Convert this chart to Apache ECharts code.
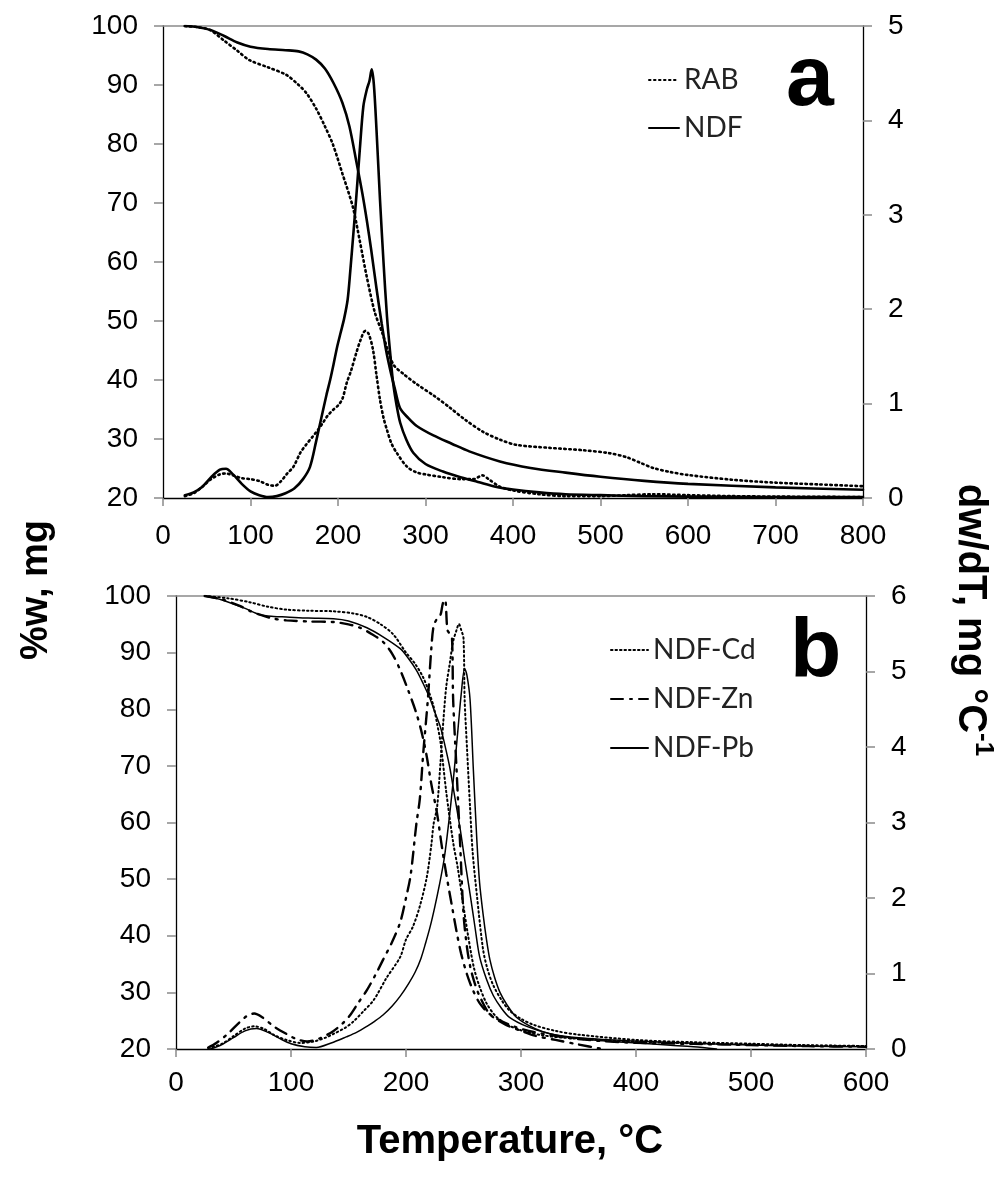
<!DOCTYPE html>
<html><head><meta charset="utf-8">
<script src="https://cdn.jsdelivr.net/npm/echarts@6/dist/echarts.min.js"></script>
<style>html,body{margin:0;padding:0;background:#fff}#c{width:1006px;height:1178px}</style>
</head><body><div id="c"></div>
<script>
// ---------- Panel a (x: temperature °C) ----------
const aXTicks = [0,100,200,300,400,500,600,700,800];
const aLeftTicks = [20,30,40,50,60,70,80,90,100];
const aRightTicks = [0,1,2,3,4,5];
// TG curves (%w, left axis)
const aNdfTG = [[25,100],[40,99.8],[55,99.3],[70,98.3],[85,97.2],[100,96.5],[120,96.1],[140,95.9],[155,95.7],[165,95.2],[175,94.3],[185,92.8],[195,90.3],[205,87],[213,83],[221,77],[228,71.5],[233,67],[238,62],[244,55.5],[250,49.5],[255,45],[260,41.5],[265,38.5],[271,35.2],[280,33.6],[290,32.2],[309,30.6],[330,29.2],[350,27.9],[385,26.2],[420,25.1],[460,24.3],[500,23.6],[550,22.9],[600,22.4],[700,21.8],[800,21.4]];
const aRabTG = [[25,100],[40,99.8],[54,99.3],[70,97.5],[85,95.8],[99,94.2],[120,93],[141,91.7],[155,90],[164,88.6],[175,86],[185,83],[194,80],[205,75],[217,69.3],[225,63.5],[233,57.4],[242,51.5],[251,47.8],[263,42.7],[275,41],[290,39.3],[310,37.3],[328,35.3],[345,33.3],[366,31.2],[385,29.9],[404,29],[442,28.5],[480,28.1],[510,27.6],[530,26.9],[545,26],[560,25.1],[580,24.4],[600,23.9],[650,23.1],[700,22.6],[750,22.3],[800,22]];
// DTG curves (dw/dT, right axis)
const aNdfDTG = [[25,0.03],[35,0.06],[45,0.12],[55,0.22],[65,0.3],[72,0.31],[80,0.25],[90,0.15],[100,0.07],[110,0.03],[120,0.01],[130,0.02],[140,0.05],[150,0.1],[160,0.2],[168,0.33],[175,0.6],[181,0.85],[187,1.1],[191,1.25],[195,1.42],[199,1.6],[203,1.75],[207,1.9],[211,2.1],[214,2.4],[218,2.85],[221,3.2],[225,3.7],[229,4.15],[233,4.33],[236,4.42],[238.5,4.54],[241,4.38],[244,3.9],[248,3.16],[252,2.5],[256,1.92],[260,1.5],[263,1.22],[267,0.98],[271,0.8],[278,0.62],[286,0.48],[300,0.36],[320,0.28],[340,0.22],[360,0.17],[380,0.12],[400,0.09],[430,0.06],[460,0.04],[500,0.03],[550,0.02],[600,0.015],[700,0.01],[800,0.01]];
const aRabDTG = [[25,0.02],[35,0.05],[45,0.12],[55,0.2],[65,0.25],[72,0.26],[80,0.24],[90,0.21],[100,0.2],[110,0.18],[120,0.14],[128,0.13],[135,0.18],[142,0.26],[149,0.33],[157,0.48],[164,0.57],[171,0.65],[177,0.72],[183,0.8],[188,0.87],[194,0.93],[200,0.98],[205,1.05],[210,1.22],[215,1.35],[221,1.54],[226,1.68],[231,1.77],[235,1.74],[240,1.57],[244,1.3],[248,1.04],[252,0.85],[256,0.72],[261,0.58],[267,0.48],[279,0.33],[290,0.27],[300,0.25],[320,0.22],[340,0.2],[355,0.2],[365,0.24],[372,0.2],[385,0.12],[400,0.08],[430,0.04],[460,0.02],[500,0.02],[530,0.03],[560,0.04],[600,0.03],[650,0.02],[700,0.015],[800,0.01]];

// ---------- Panel b ----------
const bXTicks = [0,100,200,300,400,500,600];
const bLeftTicks = [20,30,40,50,60,70,80,90,100];
const bRightTicks = [0,1,2,3,4,5,6];
const bCdTG = [[25,100],[45,99.6],[64,98.9],[80,98.1],[96,97.6],[115,97.4],[137,97.3],[155,96.9],[166,96.3],[178,95],[189,93.2],[200,90],[208,88],[215,85.6],[220,83],[224,80.5],[227,77.5],[230,74.2],[235,65.4],[241,56.5],[245,52],[250,45.2],[254,40],[259,34.4],[264,31],[270,28.1],[278,25.8],[288,24.3],[300,23.3],[319,22.4],[350,21.8],[400,21.3],[450,21],[500,20.8],[550,20.6],[600,20.5]];
const bZnTG = [[25,100],[40,99.4],[56,98.2],[65,97.3],[73,96.7],[85,96],[96,95.7],[115,95.5],[137,95.4],[150,95],[160,94.4],[170,93.3],[180,91.9],[188,89.8],[195,86.9],[202,83.3],[209,79.3],[214,75.6],[218,71.7],[222,66.8],[227,61.6],[231,56],[235,50.9],[240,45.2],[244,40.7],[248,36.8],[253,33.2],[258,30.5],[264,28.1],[272,26.3],[282,25],[295,23.9],[311,23],[340,22],[370,21.4],[400,21.1],[450,20.9],[500,20.7],[550,20.5],[600,20.4]];
const bPbTG = [[25,100],[40,99.3],[59,97.9],[73,96.7],[85,96.4],[96,96.3],[115,96.1],[137,96],[150,95.6],[166,94.4],[180,92.8],[195,90.7],[202,89],[209,86.9],[215,84.5],[221,81.8],[225,79.5],[230,76.8],[234,73.5],[238,69.8],[242,65],[247,59],[251,53.5],[256,47],[260,41.5],[264,36.3],[270,32.3],[276,29.4],[283,27.2],[290,25.6],[305,24],[325,22.7],[350,22],[400,21.4],[450,21],[500,20.7],[550,20.5],[600,20.4]];
const bCdDTG = [[28,0.01],[40,0.07],[50,0.17],[60,0.27],[68,0.3],[76,0.27],[86,0.18],[96,0.12],[108,0.08],[120,0.1],[130,0.15],[137,0.2],[147,0.28],[154,0.36],[163,0.5],[172,0.65],[183,0.94],[195,1.22],[200,1.45],[206,1.62],[212,1.89],[218,2.27],[222,2.7],[224,2.98],[227,3.2],[230,3.8],[232.5,4.35],[235,4.8],[238,5.1],[241,5.4],[244,5.55],[246,5.63],[248,5.55],[250,5.44],[251,4.63],[253,4.0],[255.7,3.2],[258,2.6],[261.7,2.03],[267,1.32],[271,1.05],[276,0.84],[283,0.65],[290,0.51],[300,0.4],[311,0.32],[330,0.24],[350,0.19],[400,0.12],[450,0.09],[500,0.07],[550,0.05],[600,0.04]];
const bZnDTG = [[28,0.02],[35,0.08],[45,0.2],[55,0.35],[62,0.44],[68,0.47],[75,0.42],[85,0.3],[96,0.2],[105,0.13],[114,0.1],[125,0.14],[137,0.24],[145,0.34],[151,0.44],[158,0.6],[166,0.78],[173,0.97],[180,1.18],[188,1.42],[195,1.68],[200,2.0],[204,2.3],[209,2.98],[212,3.31],[215,3.92],[219,4.63],[222,5.3],[224,5.6],[227,5.7],[230,5.75],[232,5.9],[234,5.95],[236,5.55],[238,5.5],[240,5.44],[241,4.63],[244,3.69],[247,2.74],[250,1.79],[253,1.35],[256,1.08],[260,0.86],[264,0.7],[273,0.46],[287,0.32],[300,0.24],[311,0.18],[330,0.12],[350,0.06],[371,0]];
const bPbDTG = [[30,0.0],[40,0.06],[50,0.15],[60,0.24],[70,0.27],[80,0.22],[90,0.14],[100,0.07],[112,0.03],[122,0.02],[135,0.08],[148,0.16],[157,0.22],[166,0.3],[173,0.37],[180,0.45],[188,0.57],[195,0.7],[202,0.86],[208,1.02],[213,1.2],[217,1.4],[221,1.62],[225,1.88],[229,2.17],[233,2.5],[236,2.85],[239,3.25],[242,3.7],[245,4.2],[248,4.7],[251,5.04],[253,4.95],[255.7,4.63],[258.6,3.69],[261.7,2.74],[264,2.2],[267,1.79],[270,1.45],[273,1.18],[277,0.95],[281.7,0.75],[288,0.58],[296,0.42],[307,0.31],[319,0.23],[335,0.17],[350,0.14],[380,0.1],[400,0.08],[430,0.05],[450,0.03],[470,0.0]];

const FONT = 'Liberation Sans, Arial, sans-serif';
const LEG_FONT = 'Lato, "Open Sans", sans-serif';
const GREY = '#8a8a8a';

function xAx(grid, ticks, margin) {
  return {
    gridIndex: grid, type: 'value', position: 'bottom',
    min: ticks[0], max: ticks[ticks.length-1], interval: ticks[1]-ticks[0],
    axisLine: {show: true, onZero: false, lineStyle: {color: '#000', width: 1.3}},
    axisTick: {show: true, length: 8, lineStyle: {color: GREY, width: 1.5}},
    axisLabel: {fontFamily: FONT, fontSize: 28, color: '#000', margin: margin},
    splitLine: {show: false}
  };
}
function topAx(grid, ticks) {
  return {
    gridIndex: grid, type: 'value', position: 'top',
    min: ticks[0], max: ticks[ticks.length-1],
    axisLine: {show: true, onZero: false, lineStyle: {color: GREY, width: 1.5}},
    axisTick: {show: false}, axisLabel: {show: false}, splitLine: {show: false}
  };
}
function yAx(grid, ticks, pos) {
  return {
    gridIndex: grid, type: 'value', position: pos,
    min: ticks[0], max: ticks[ticks.length-1], interval: ticks[1]-ticks[0],
    axisLine: {show: true, onZero: false, lineStyle: {color: '#000', width: 1.3}},
    axisTick: {show: true, length: 9, lineStyle: {color: GREY, width: 1.5}},
    axisLabel: {fontFamily: FONT, fontSize: 28, color: '#000', margin: 25},
    splitLine: {show: false}
  };
}
function line(name, data, xi, yi, type, width) {
  return {
    name: name, type: 'line', data: data, xAxisIndex: xi, yAxisIndex: yi,
    showSymbol: false, symbol: 'none', smooth: 0.3, animation: false,
    lineStyle: {color: '#000', width: width, type: type, cap: 'round'},
    itemStyle: {color: '#000'}
  };
}
const DOT_A = [1.5, 3.5];
const DOT_B = [1.5, 3];
const DASHDOT = [12, 7, 2, 7];

const legendCommon = {
  orient: 'vertical', itemHeight: 12, selectedMode: false,
  itemStyle: {opacity: 0, borderWidth: 0},
  textStyle: {fontFamily: LEG_FONT, fontSize: 28, color: '#222', lineHeight: 36}
};

const option = {
  animation: false,
  backgroundColor: '#fff',
  grid: [
    {left: 163, right: 1006-863, top: 26, height: 472},
    {left: 176, right: 1006-866, top: 596, height: 453}
  ],
  xAxis: [xAx(0, aXTicks, 24), topAx(0, aXTicks), xAx(1, bXTicks, 20), topAx(1, bXTicks)],
  yAxis: [yAx(0, aLeftTicks, 'left'), yAx(0, aRightTicks, 'right'), yAx(1, bLeftTicks, 'left'), yAx(1, bRightTicks, 'right')],
  legend: [
    Object.assign({data: ['RAB', 'NDF'], left: 643, top: 57, itemWidth: 30, itemGap: 12}, legendCommon),
    Object.assign({data: ['NDF-Cd', 'NDF-Zn', 'NDF-Pb'], left: 605, top: 627, itemWidth: 37, itemGap: 13}, legendCommon)
  ],
  series: [
    line('RAB', aRabTG, 0, 0, DOT_A, 2.6),
    line('NDF', aNdfTG, 0, 0, 'solid', 2.6),
    line('RAB', aRabDTG, 0, 1, DOT_A, 2.6),
    line('NDF', aNdfDTG, 0, 1, 'solid', 2.6),
    line('NDF-Cd', bCdTG, 2, 2, DOT_B, 2),
    line('NDF-Zn', bZnTG, 2, 2, DASHDOT, 2.4),
    line('NDF-Pb', bPbTG, 2, 2, 'solid', 1.5),
    line('NDF-Cd', bCdDTG, 2, 3, DOT_B, 2),
    line('NDF-Zn', bZnDTG, 2, 3, DASHDOT, 2.4),
    line('NDF-Pb', bPbDTG, 2, 3, 'solid', 1.5)
  ],
  graphic: [
    {type: 'text', left: 786, top: 38, style: {text: 'a', fontFamily: FONT, fontWeight: 'bold', fontSize: 86, fill: '#000'}},
    {type: 'text', left: 790, top: 612, style: {text: 'b', fontFamily: FONT, fontWeight: 'bold', fontSize: 84, fill: '#000'}},
    {type: 'text', x: 37, y: 590, rotation: Math.PI/2,
     style: {text: '%w, mg', fontFamily: FONT, fontWeight: 'bold', fontSize: 38, fill: '#000', align: 'center', verticalAlign: 'middle'}},
    {type: 'text', x: 973, y: 620, rotation: -Math.PI/2,
     style: {text: '{m|dw/dT, mg °C}{s|-1}', align: 'center', verticalAlign: 'middle',
       rich: {m: {fontFamily: FONT, fontWeight: 'bold', fontSize: 40, fill: '#000', lineHeight: 46, verticalAlign: 'bottom'},
              s: {fontFamily: FONT, fontWeight: 'bold', fontSize: 26, fill: '#000', lineHeight: 46, verticalAlign: 'top', padding: [0,0,14,0]}}}},
    {type: 'text', x: 510, y: 1142,
     style: {text: 'Temperature, °C', fontFamily: FONT, fontWeight: 'bold', fontSize: 40, fill: '#000', align: 'center', verticalAlign: 'middle'}}
  ]
};
const chart = echarts.init(document.getElementById('c'), null, {renderer: 'canvas'});
chart.setOption(option);
</script></body></html>
